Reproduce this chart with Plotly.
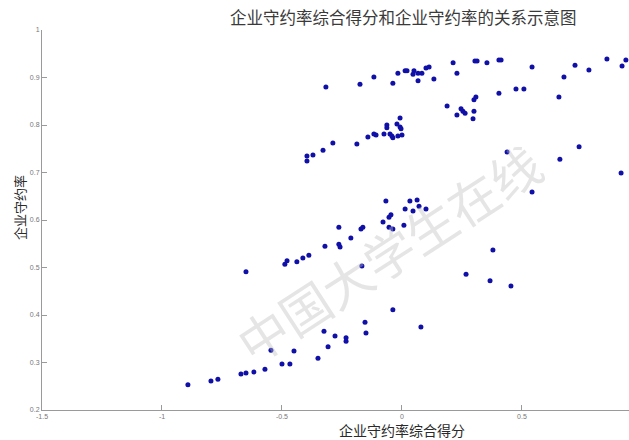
import plotly.graph_objects as go

# Composite score (x) and compliance rate (y)
score = [
    # upper band
    -0.317, -0.175, -0.117, -0.038, -0.017, 0.013, 0.021, 0.050, 0.046, 0.067,
    0.083, 0.100, 0.113, 0.067, 0.133, 0.213, 0.229, 0.304, 0.313, 0.354,
    0.404, 0.413, 0.542, 0.675, 0.721, 0.779, 0.854, 0.917, 0.933,
    # second band
    -0.396, -0.396, -0.371, -0.329, -0.288, -0.188, -0.142, -0.117, -0.108, -0.075,
    -0.050, -0.042, -0.038, -0.017, 0.000, -0.063, -0.063, -0.021, -0.008, -0.004,
    -0.008, 0.188, 0.229, 0.246, 0.254, 0.263, 0.300, 0.308, 0.300, 0.296,
    0.404, 0.475, 0.508, 0.654, 0.438, 0.658, 0.738, 0.913, 0.542,
    # middle band
    -0.067, 0.033, 0.063, 0.013, 0.046, 0.071, 0.100, -0.054, -0.046, -0.079,
    -0.054, -0.038, 0.008, -0.263, -0.171, -0.163, -0.213, -0.263, -0.258, -0.321,
    -0.388, -0.413, -0.438, -0.488, -0.479, -0.167, -0.650, 0.267, 0.379, 0.367,
    0.454,
    # lower band
    -0.038, -0.154, -0.150, 0.079, -0.325, -0.279, -0.233, -0.233, -0.308, -0.350,
    -0.546, -0.450, -0.500, -0.467, -0.571, -0.617, -0.671, -0.650, -0.796, -0.767,
    -0.892,
]
rate = [
    0.880, 0.886, 0.901, 0.888, 0.909, 0.914, 0.914, 0.914, 0.907, 0.909,
    0.909, 0.920, 0.922, 0.893, 0.897, 0.931, 0.909, 0.935, 0.935, 0.931,
    0.937, 0.937, 0.922, 0.901, 0.926, 0.916, 0.939, 0.924, 0.937,
    0.735, 0.724, 0.737, 0.747, 0.762, 0.760, 0.775, 0.781, 0.779, 0.781,
    0.781, 0.777, 0.773, 0.777, 0.779, 0.800, 0.794, 0.802, 0.796, 0.792,
    0.815, 0.840, 0.821, 0.834, 0.829, 0.825, 0.853, 0.859, 0.829, 0.813,
    0.867, 0.876, 0.876, 0.859, 0.743, 0.728, 0.754, 0.699, 0.659,
    0.640, 0.640, 0.642, 0.623, 0.619, 0.629, 0.623, 0.606, 0.611, 0.596,
    0.585, 0.581, 0.589, 0.585, 0.581, 0.585, 0.562, 0.549, 0.543, 0.545,
    0.526, 0.520, 0.512, 0.507, 0.514, 0.503, 0.491, 0.486, 0.537, 0.472,
    0.461,
    0.411, 0.385, 0.362, 0.375, 0.366, 0.356, 0.352, 0.345, 0.333, 0.309,
    0.326, 0.324, 0.297, 0.297, 0.286, 0.280, 0.276, 0.278, 0.261, 0.265,
    0.253,
]

x_ticks = [-1.5, -1, -0.5, 0, 0.5]
x_tick_labels = ["-1.5", "-1", "-0.5", "0", "0.5"]
y_ticks = [0.2, 0.3, 0.4, 0.5, 0.6, 0.7, 0.8, 0.9, 1.0]
y_tick_labels = ["0.2", "0.3", "0.4", "0.5", "0.6", "0.7", "0.8", "0.9", "1"]

title_text = "企业守约率综合得分和企业守约率的关系示意图"
x_title = "企业守约率综合得分"
y_title = "企业守约率"
watermark = "中国大学生在线"

CJK = "Noto Sans CJK SC"

fig = go.Figure()
fig.add_trace(go.Scatter(
    x=score, y=rate, mode="markers",
    marker=dict(size=5, color="#1010a8", line=dict(width=0)),
    showlegend=False, hoverinfo="skip",
))

axis_common = dict(
    showgrid=False, zeroline=False, showline=True, linecolor="#9a9a9a", linewidth=1,
    ticks="inside", ticklen=5, tickcolor="#9a9a9a", tickwidth=1,
    tickfont=dict(size=7, color="#777777", family="Liberation Sans"),
    mirror=False,
)

fig.update_layout(
    width=629, height=440,
    margin=dict(l=42, r=0, t=30, b=30),
    paper_bgcolor="white", plot_bgcolor="white",
    xaxis=dict(range=[-1.5, 0.946], tickvals=x_ticks, ticktext=x_tick_labels, **axis_common),
    yaxis=dict(range=[0.2, 1.0], tickvals=y_ticks, ticktext=y_tick_labels, **axis_common),
    annotations=[
        dict(text=title_text, xref="paper", yref="paper", x=(403 - 42) / 587, y=1,
             yshift=13, xanchor="center", yanchor="middle", showarrow=False,
             font=dict(family=CJK, size=16.5, color="#3a3a3a")),
        dict(text=x_title, xref="paper", yref="paper", x=(402 - 42) / 587, y=0,
             yshift=-9, xanchor="center", yanchor="top", showarrow=False,
             borderpad=0,
             font=dict(family=CJK, size=14, color="#2a2a2a")),
        dict(text=y_title, xref="paper", yref="paper", x=0, xshift=-23,
             y=(410 - 208) / 380, xanchor="center", yanchor="middle", textangle=-90,
             showarrow=False, font=dict(family=CJK, size=13, color="#2a2a2a")),
        dict(text=watermark, xref="paper", yref="paper", x=(388 - 42) / 587,
             y=(410 - 252) / 380, xanchor="center", yanchor="middle", textangle=-33,
             showarrow=False, font=dict(family=CJK, size=50, color="rgba(190,190,190,0.4)")),
    ],
)

fig.write_html("out.html")
